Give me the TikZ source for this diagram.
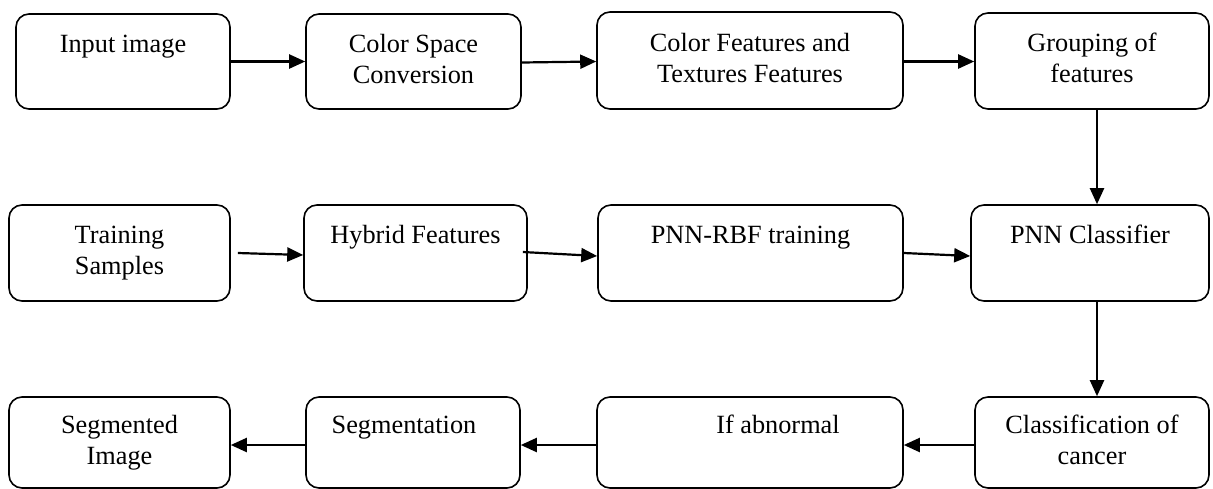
\documentclass[tikz,border=0pt]{standalone}
\usepackage{fontspec}
\setmainfont{Liberation Serif}
\usetikzlibrary{arrows.meta}
\tikzset{
  box/.style={draw, line width=1.6pt, rounded corners=13pt, align=center,
    inner sep=0pt, font=\fontsize{26.3}{31}\selectfont},
  conn/.style={line width=2.2pt, -{Triangle[length=16pt,width=14pt]}}
}
\begin{document}
\begin{tikzpicture}[x=1pt,y=-1pt]
\useasboundingbox (0,0) rectangle (1213,488);
% row 1
\node[box, minimum width=214pt, minimum height=95pt] (in)  at (123,61.5)   {\strut Input image\\\strut};
\node[box, minimum width=215pt, minimum height=95pt] (csc) at (413.5,61.5) {\strut Color Space\\\strut Conversion};
\node[box, minimum width=306pt, minimum height=97pt] (cf)  at (750,60.5)   {\strut Color Features and\\\strut Textures Features};
\node[box, minimum width=234pt, minimum height=96pt] (grp) at (1092,61)    {\strut Grouping of\\\strut features};
% row 2
\node[box, minimum width=221pt, minimum height=96pt] (ts)  at (119.5,253)  {\strut Training\\\strut Samples};
\node[box, minimum width=223pt, minimum height=96pt] (hf)  at (415.5,253)  {\strut Hybrid Features\\\strut};
\node[box, minimum width=305pt, minimum height=96pt] (rbf) at (750.5,253)  {\strut PNN-RBF training\\\strut};
\node[box, minimum width=238pt, minimum height=96pt] (pnn) at (1090,253)   {\strut PNN Classifier\\\strut};
% row 3
\node[box, minimum width=221pt, minimum height=91pt] (si)  at (119.5,442.5) {\strut Segmented\\\strut Image};
\node[box, minimum width=214pt, minimum height=91pt] (seg) at (413,442.5)   {\strut Segmentation\hspace*{18pt}\\\strut};
\node[box, minimum width=306pt, minimum height=91pt] (ab)  at (750,442.5)   {\strut\hspace*{56pt}If abnormal\\\strut};
\node[box, minimum width=234pt, minimum height=91pt] (cc)  at (1092,442.5)  {\strut Classification of\\\strut cancer};
% row 1 connectors
\draw[conn] (in.east) -- (csc.west);
\draw[conn] ([yshift=-1pt]csc.east) -- (cf.west |- csc.east);
\draw[conn] (cf.east |- csc.east) -- (grp.west |- csc.east);
% row 2 connectors
\draw[conn] ([xshift=7pt]ts.east) -- ([yshift=-2pt]hf.west);
\draw[conn] ([xshift=-5pt,yshift=1pt]hf.east) -- ([yshift=-3pt]rbf.west);
\draw[conn] (rbf.east) -- ([yshift=-3pt]pnn.west);
% verticals
\draw[conn] ([xshift=5pt]grp.south) -- ([xshift=5pt]grp.south |- pnn.north);
\draw[conn] ([xshift=7pt]pnn.south) -- ([xshift=7pt]pnn.south |- cc.north);
% row 3 connectors
\draw[conn] ([yshift=-2.5pt]cc.west) -- ([yshift=-2.5pt]ab.east);
\draw[conn] ([yshift=-2.5pt]ab.west) -- ([yshift=-2.5pt]seg.east);
\draw[conn] ([yshift=-2.5pt]seg.west) -- ([yshift=-2.5pt]si.east);
\end{tikzpicture}
\end{document}
